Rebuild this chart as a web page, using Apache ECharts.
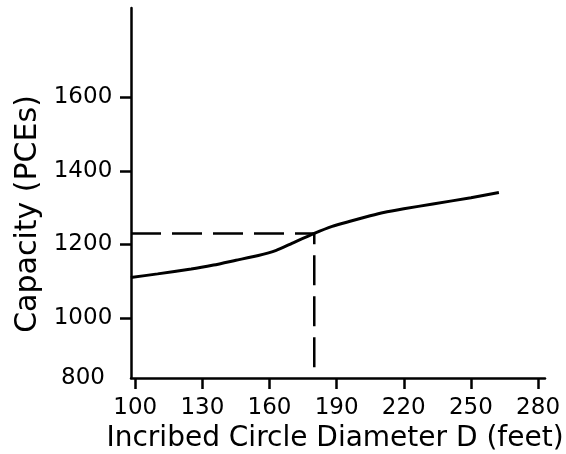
<!DOCTYPE html>
<html>
<head>
<meta charset="utf-8">
<script src="https://cdn.jsdelivr.net/npm/echarts@6/dist/echarts.min.js"></script>
<style>
  html, body { margin: 0; padding: 0; background: #fff; }
  #chart { width: 566px; height: 454px; }
</style>
</head>
<body>
<div id="chart"></div>
<script>
// Curve data: Inscribed circle diameter (feet) vs capacity (PCEs)
const diameters = [98, 110, 125, 135, 145, 155, 163, 170, 180, 188, 196, 205, 211, 220, 233, 250, 262.5];
const capacities = [1110, 1120, 1133, 1144, 1157, 1170, 1184, 1203, 1230, 1249, 1263, 1278, 1287, 1297, 1310, 1327, 1341];

// Reference point
const refDiameter = 180;
const refCapacity = 1230;

// Axis extents and tick labels
const xMin = 98.1, xMax = 283.1;
const yMin = 836.8, yMax = 1843;
const xTicks = [100, 130, 160, 190, 220, 250, 280];
const yTicks = [1000, 1200, 1400, 1600];
const yTickLabels = [800, 1000, 1200, 1400, 1600];

const FONT = 'DejaVu Sans';

const curve = diameters.map((d, i) => [d, capacities[i]]);
const guide = [[xMin, refCapacity], [refDiameter, refCapacity], [refDiameter, yMin]];
const yLabelValues = [yMin].concat(yTicks);

const chart = echarts.init(document.getElementById('chart'), null, { renderer: 'canvas' });
chart.setOption({
  animation: false,
  backgroundColor: '#ffffff',
  grid: { left: 131, right: 21, top: 8, bottom: 76, containLabel: false, outerBoundsMode: 'none' },
  xAxis: {
    type: 'value',
    min: xMin,
    max: xMax,
    name: 'Incribed Circle Diameter D (feet)',
    nameLocation: 'middle',
    nameGap: 42,
    nameTextStyle: { fontFamily: FONT, fontSize: 28, color: '#000', padding: [0, 6, 0, 0] },
    axisLine: { show: true, onZero: false, lineStyle: { color: '#000', width: 2.5 } },
    axisTick: { show: true, length: 11, customValues: xTicks, lineStyle: { color: '#000', width: 2.5 } },
    axisLabel: { customValues: xTicks, margin: 19, fontFamily: FONT, fontSize: 23, color: '#000' },
    splitLine: { show: false }
  },
  yAxis: {
    type: 'value',
    min: yMin,
    max: yMax,
    name: 'Capacity (PCEs)',
    nameLocation: 'middle',
    nameGap: 86,
    nameTextStyle: { fontFamily: FONT, fontSize: 30, color: '#000', padding: [0, 42, 0, 0] },
    axisLine: { show: true, onZero: false, lineStyle: { color: '#000', width: 2.5 } },
    axisTick: { show: true, length: 11, customValues: yTicks, lineStyle: { color: '#000', width: 2.5 } },
    axisLabel: {
      customValues: yLabelValues,
      align: 'center',
      margin: 48,
      fontFamily: FONT,
      fontSize: 23,
      color: '#000',
      formatter: function (v) {
        const idx = yLabelValues.indexOf(v);
        return idx >= 0 ? String(yTickLabels[idx]) : String(v);
      }
    },
    splitLine: { show: false }
  },
  series: [
    {
      name: 'Capacity',
      type: 'line',
      data: curve,
      showSymbol: false,
      smooth: 0.2,
      lineStyle: { color: '#000', width: 3 },
      z: 3
    },
    {
      name: 'Guide',
      type: 'line',
      data: guide,
      showSymbol: false,
      lineStyle: { color: '#000', width: 2.5, type: [30, 11] },
      z: 2
    }
  ]
});
</script>
</body>
</html>
